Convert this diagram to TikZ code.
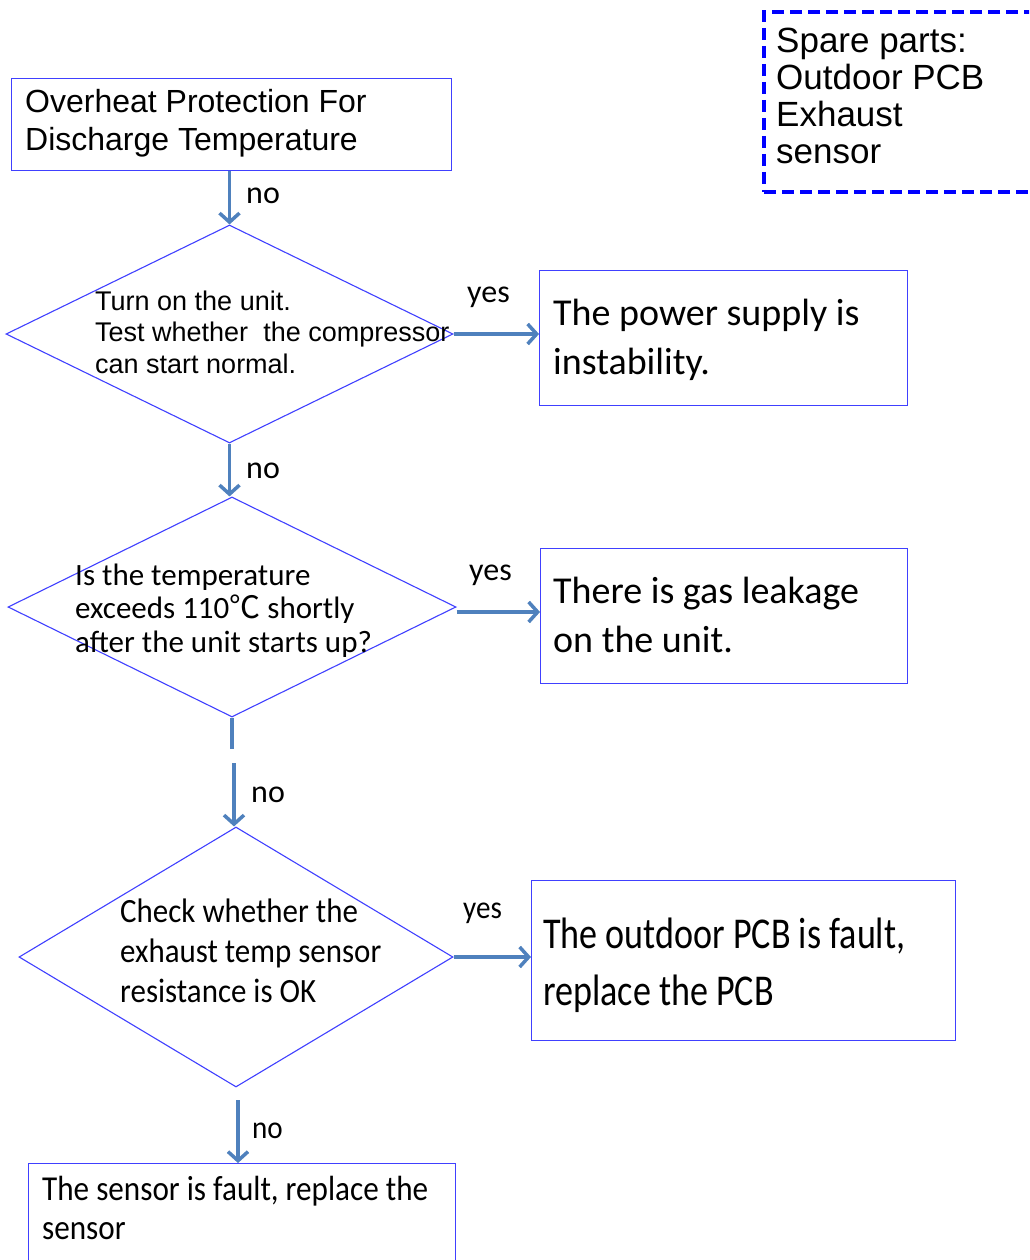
\documentclass[tikz,border=0pt]{standalone}
\usepackage{fontspec}
\setmainfont{Carlito}
\newfontfamily\tah{Liberation Sans}
\newfontfamily\calN[FakeStretch=0.91]{Carlito}
\newfontfamily\calM[FakeStretch=0.82]{Carlito}
\newfontfamily\calS[FakeStretch=0.89]{Carlito}
\newfontfamily\cjk{Noto Sans CJK SC}
\usetikzlibrary{shapes.geometric,arrows.meta}
\definecolor{edgeblue}{RGB}{64,64,255}
\definecolor{arrowblue}{RGB}{79,129,189}
\definecolor{dashblue}{RGB}{0,0,255}
\newcommand\tlines[1]{\begin{tabular}[t]{@{}l@{}}#1\end{tabular}}
\begin{document}
\begin{tikzpicture}[x=1pt,y=-1pt,
 box/.style={draw=edgeblue,line width=1.3pt,rectangle,inner sep=0pt,anchor=north west},
 dia/.style={draw=edgeblue,line width=1.1pt,diamond,inner sep=0pt},
 arr/.style={draw=arrowblue,line width=3.5pt,-{Straight Barb[length=9pt,width=20pt]}},
 seg/.style={draw=arrowblue,line width=3.5pt},
 txt/.style={inner sep=0pt,anchor=base west,text=black},
 lbl/.style={inner sep=0pt,anchor=base west,font=\fontsize{32}{38}\selectfont}]
\clip (0,0) rectangle (1029,1260);
\fill[white] (0,0) rectangle (1029,1260);
% boxes
\node[box,minimum width=440pt,minimum height=92pt] (b1) at (11,78) {};
\node[box,minimum width=368pt,minimum height=135pt] (b2) at (539,270) {};
\node[box,minimum width=367pt,minimum height=135pt] (b3) at (540,548) {};
\node[box,minimum width=424pt,minimum height=160pt] (b4) at (531,880) {};
\node[box,minimum width=427pt,minimum height=110pt] (b5) at (28,1163) {};
\node[box,draw=dashblue,line width=4pt,dash pattern=on 12pt off 6pt,minimum width=280pt,minimum height=180pt] (sp) at (762,10) {};
% diamonds
\node[dia,minimum width=447pt,minimum height=218pt] (d1) at (229.5,334) {};
\node[dia,minimum width=448pt,minimum height=220pt] (d2) at (232,607) {};
\node[dia,minimum width=434pt,minimum height=260pt] (d3) at (236,957) {};
% texts
\node[txt,font=\tah\fontsize{32}{38}\selectfont] (t1) at (25,113) {\tlines{Overheat Protection For\\Discharge Temperature}};
\node[txt,font=\tah\fontsize{27}{31.5}\selectfont] (t2) at (95,310) {\tlines{Turn on the unit.\\Test whether\ \ the compressor\\can start normal.}};
\node[txt,font=\fontsize{38}{49}\selectfont] (t3) at (553,325) {\tlines{The power supply is\\instability.}};
\node[txt,font=\fontsize{31}{33.5}\selectfont] (t4) at (75,585) {\tlines{Is the temperature\\exceeds 110{\cjk ℃} shortly\\after the unit starts up?}};
\node[txt,font=\fontsize{38}{49}\selectfont] (t5) at (553,603) {\tlines{There is gas leakage\\on the unit.}};
\node[txt,font=\calN\fontsize{34}{40}\selectfont] (t6) at (120,922) {\tlines{Check whether the\\exhaust temp sensor\\resistance is OK}};
\node[txt,font=\calM\fontsize{44}{57}\selectfont] (t7) at (543,948) {\tlines{The outdoor PCB is fault,\\replace the PCB}};
\node[txt,font=\calS\fontsize{35}{39}\selectfont] (t8) at (42,1200) {\tlines{The sensor is fault, replace the\\sensor}};
\node[txt,font=\tah\fontsize{35}{37}\selectfont] (t9) at (776,53) {\tlines{Spare parts:\\Outdoor PCB\\Exhaust\\sensor}};
% labels
\node[lbl] (n1) at (246,204) {no};
\node[lbl] (y1) at (467,302) {yes};
\node[lbl] (n2) at (246,478) {no};
\node[lbl] (y2) at (469,580) {yes};
\node[lbl] (n3) at (251,802) {no};
\node[lbl,font=\calN\fontsize{32}{38}\selectfont] (y3) at (463,918) {yes};
\node[lbl,font=\calN\fontsize{32}{38}\selectfont] (n4) at (252,1138) {no};
% connectors
\coordinate (c1) at (231,749);
\coordinate (c2) at (234,763);
\coordinate (c3) at (238,1100);
\draw[arr] (d1.north |- b1.south) -- (d1.north);
\draw[arr] (d1.east) -- (d1.east -| b2.west);
\draw[arr] (d1.south) -- (d1.south |- d2.north);
\draw[arr] ([yshift=-5pt]d2.east) -- ([yshift=-5pt]d2.east -| b3.west);
\draw[seg] (d2.south) -- (d2.south |- c1);
\draw[arr] (c2) -- (c2 |- d3.north);
\draw[arr] (d3.east) -- (d3.east -| b4.west);
\draw[arr] (c3) -- (c3 |- b5.north);
\end{tikzpicture}
\end{document}
